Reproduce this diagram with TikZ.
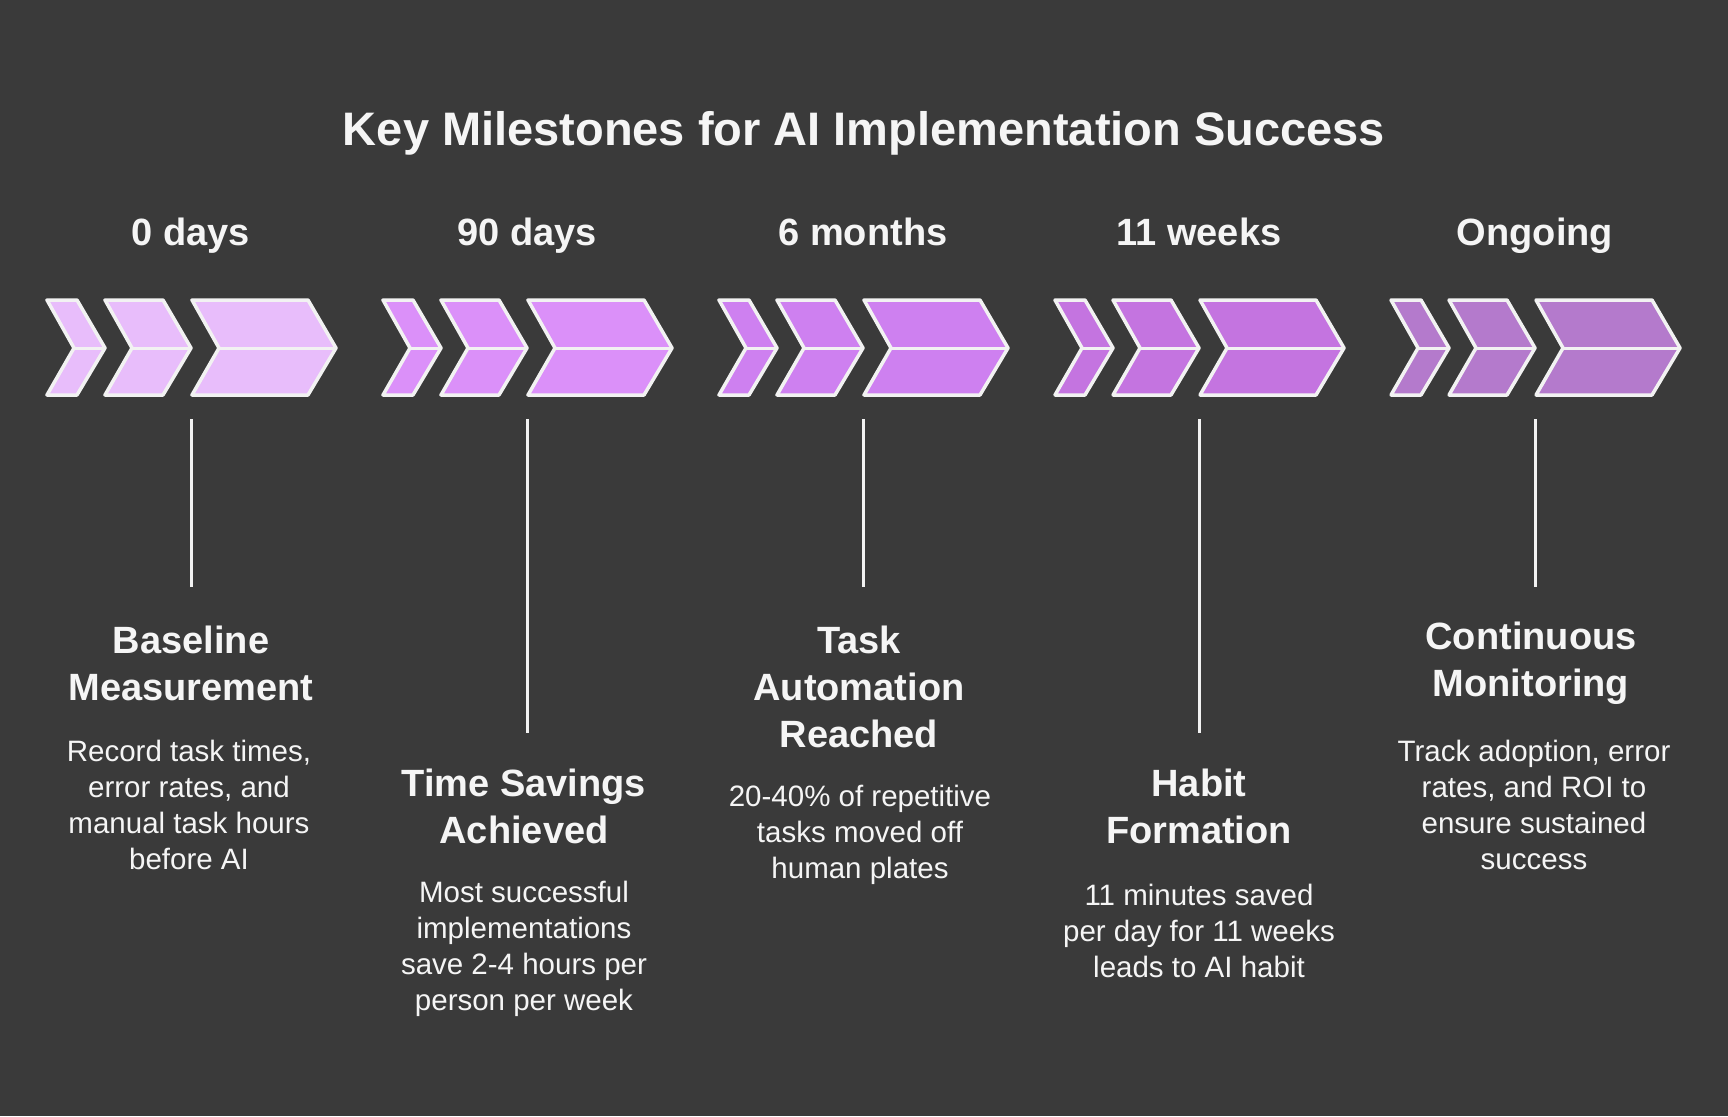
\documentclass[tikz,border=0pt]{standalone}
\usepackage{fontspec}
\setmainfont{Liberation Sans}
\begin{document}
\begin{tikzpicture}[x=1pt,y=-1pt,
  chev/.style={draw=white!95!black,line width=3.5pt,line join=round},
  mid/.style={draw=white!95!black,line width=3pt},
  tl/.style={text=white!96!black,font=\bfseries\fontsize{38}{44}\selectfont,anchor=base},
  ttl/.style={text=white!96!black,font=\bfseries\fontsize{38}{47}\selectfont,align=center},
  dsc/.style={text=white!96!black,font=\fontsize{29.5}{35.8}\selectfont,align=center},
  vl/.style={draw=white!95!black,line width=3pt}]
\fill[fill={rgb,255:red,58;green,58;blue,58}] (0,0) rectangle (1728,1116);
\useasboundingbox (0,0) rectangle (1728,1116);
\node[text=white!96!black,font=\bfseries\fontsize{47}{54}\selectfont,anchor=base] (title) at (864,145) {Key Milestones for AI Implementation Success};
\definecolor{c1}{HTML}{E8BDFB}
\definecolor{c2}{HTML}{DB90F9}
\definecolor{c3}{HTML}{CE80F0}
\definecolor{c4}{HTML}{C474E0}
\definecolor{c5}{HTML}{B47ACC}
\foreach \k/\c in {0/c1,1/c2,2/c3,3/c4,4/c5}{
  \begin{scope}[xshift=336*\k]
   \foreach \a/\b in {47/77,105/163,192/308}{
     \filldraw[chev,fill=\c] (\a,300) -- (\b,300) -- (\b+28,348) -- (\b,395) -- (\a,395) -- (\a+27,348) -- cycle;
     \draw[mid] (\a+27,348) -- (\b+28,348);
   }
  \end{scope}
}
\foreach \k/\t in {0/0 days,1/90 days,2/6 months,3/11 weeks,4/Ongoing}{
  \node[tl] (t\k) at (191+336*\k,245) {\t};
}
\foreach \k/\e in {0/587,1/733,2/587,3/733,4/587}{
  \coordinate (a\k) at (191+336*\k,419);
  \coordinate (b\k) at (191+336*\k,\e);
  \draw[vl] (a\k) -- (b\k);
}
\node[ttl] (h0) at (191,663) {Baseline\\Measurement};
\node[dsc] (d0) at (189,805) {Record task times,\\error rates, and\\manual task hours\\before AI};
\node[ttl] (h1) at (524,806) {Time Savings\\Achieved};
\node[dsc] (d1) at (524,949) {Most successful\\implementations\\save 2-4 hours per\\person per week};
\node[ttl] (h2) at (859,687) {Task\\Automation\\Reached};
\node[dsc] (d2) at (860,835) {20-40\% of repetitive\\tasks moved off\\human plates};
\node[ttl] (h3) at (1199,806) {Habit\\Formation};
\node[dsc] (d3) at (1199,931) {11 minutes saved\\per day for 11 weeks\\leads to AI habit};
\node[ttl] (h4) at (1531,663) {Continuous\\Monitoring};
\node[dsc] (d4) at (1534,805) {Track adoption, error\\rates, and ROI to\\ensure sustained\\success};
\end{tikzpicture}
\end{document}
